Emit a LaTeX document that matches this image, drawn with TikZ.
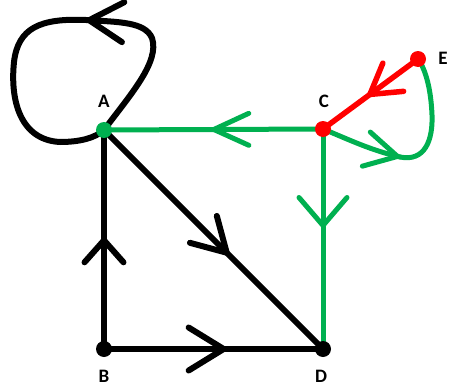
\documentclass[tikz,border=0pt]{standalone}
\usepackage{fontspec}
\setmainfont{Carlito}
\usetikzlibrary{arrows.meta,decorations.markings}
\definecolor{gr}{RGB}{0,176,80}
\definecolor{rd}{RGB}{255,0,0}
\tikzset{
  blk/.style={line width=6pt, draw=black, line cap=round, line join=round},
  grn/.style={line width=5pt, draw=gr, line cap=round, line join=round},
  red/.style={line width=5.5pt, draw=rd, line cap=round, line join=round},
  midarrow/.style n args={3}{postaction={decorate}, decoration={markings,
     mark=at position #1 with {\arrow{Straight Barb[length=#2pt,width=#3pt,round]}}}},
  dot/.style={circle, inner sep=0pt, minimum size=16pt, fill=#1},
  lab/.style={font=\fontsize{19}{19}\selectfont\bfseries, inner sep=0pt}
}
\begin{document}
\begin{tikzpicture}[x=1pt, y=-1pt]
\useasboundingbox (0,0) rectangle (450,388);
\coordinate (A) at (104,130);
\coordinate (C) at (323,129);
\coordinate (E) at (418,59);
\coordinate (B) at (104,349);
\coordinate (D) at (323,349);
\coordinate (Ltop) at (86,20);
\coordinate (Cb) at (400,157);
% loop at A
\draw[blk, midarrow={0.999}{34}{40}] (A) .. controls (130,95) and (160,62) .. (152,38) .. controls (145,22) and (120,22) .. (Ltop);
\draw[blk] (Ltop) .. controls (40,18) and (18,28) .. (14,62) .. controls (10,100) and (20,140) .. (60,142) .. controls (80,142) and (95,138) .. (A);
% straight edges
\draw[blk, midarrow={0.51}{22}{39}] (B) -- (A);
\draw[blk, midarrow={0.57}{33}{38}] (A) -- (D);
\draw[blk, midarrow={0.56}{35}{43}] (B) -- (D);
\draw[grn, midarrow={0.51}{35}{32}] (C) -- (A);
\draw[grn, midarrow={0.45}{28}{48}] (C) -- (D);
% C to E curve
\draw[grn, midarrow={0.999}{32}{35}] (C) .. controls (350,140) and (370,150) .. (Cb);
\draw[grn] (Cb) .. controls (425,162) and (433,140) .. (432,115) .. controls (431,90) and (426,70) .. (E);
\draw[red, midarrow={0.53}{29}{35}] (E) -- (C);
% dots
\node[dot=gr] (Ad) at (A) {};
\node[dot=rd] (Cd) at (C) {};
\node[dot=rd] (Ed) at (E) {};
\node[dot=black] (Bd) at (B) {};
\node[dot=black] (Dd) at (D) {};
% labels
\node[lab] (lA) at (104,101) {A};
\node[lab] (lC) at (324,101) {C};
\node[lab] (lE) at (443,58) {E};
\node[lab] (lB) at (104,376) {B};
\node[lab] (lD) at (321,376) {D};
\end{tikzpicture}
\end{document}
